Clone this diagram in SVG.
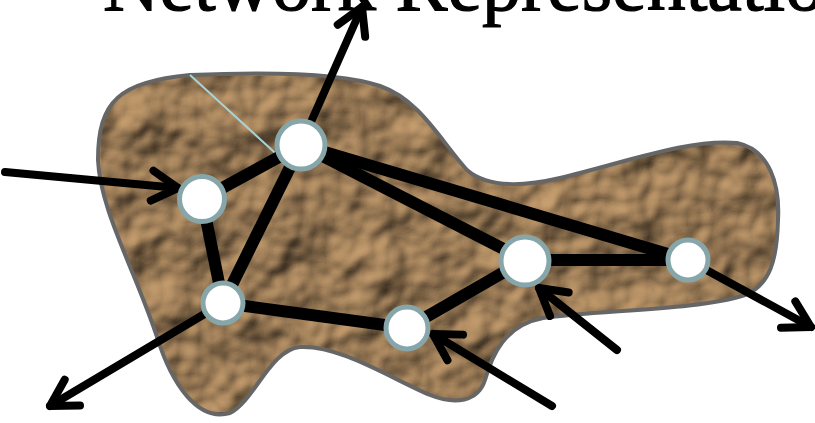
<svg xmlns="http://www.w3.org/2000/svg" width="815" height="423" viewBox="0 0 815 423">
<style>
.title{font-family:"Liberation Serif","DejaVu Serif",serif;font-size:78px;fill:#000;stroke:#000;stroke-width:1.2}
.edge{stroke:#000;stroke-width:12;stroke-linecap:butt;fill:none}
.arrow{stroke:#000;stroke-width:8;stroke-linecap:round;fill:none;marker-end:url(#head)}
.node{fill:#fff;stroke:#87a6aa;stroke-width:5}
.outline{fill:none;stroke:#666;stroke-width:4}
</style>
<defs>
<filter id="paper" x="0" y="0" width="100%" height="100%" color-interpolation-filters="sRGB">
<feTurbulence type="fractalNoise" baseFrequency="0.02" numOctaves="3" seed="11" result="n"/>
<feGaussianBlur in="n" stdDeviation="1.2" result="nb"/>
<feDiffuseLighting in="nb" surfaceScale="10" diffuseConstant="1" lighting-color="#c9a070" result="l">
<feDistantLight azimuth="235" elevation="48"/>
</feDiffuseLighting>
<feComposite in="l" in2="SourceAlpha" operator="in"/>
</filter>
<marker id="head" markerUnits="userSpaceOnUse" markerWidth="60" markerHeight="60" refX="0" refY="0" orient="auto" overflow="visible" viewBox="-40 -30 60 60">
<path d="M-26,-15 L0,0 L-26,15" fill="none" stroke="#000" stroke-width="8" stroke-linecap="round" stroke-linejoin="round"/>
</marker>
<path id="blobShape" d="M190,75 C260,72 340,72 380,86 C420,100 440,140 467,170 C490,190 530,185 560,178 C620,164 690,138 737,143 C770,150 780,185 778,220 C777,260 770,285 745,295 C700,310 600,310 543,318 C505,325 492,355 485,380 C478,402 455,405 430,395 C390,378 340,345 300,347 C270,350 255,400 230,413 C198,422 172,385 157,337 C135,270 100,210 98,160 C98,100 120,82 190,75 Z"/>
</defs>
<rect width="815" height="423" fill="#fff"/>
<text class="title" x="103" y="10">Network Representation</text>
<g id="region">
<use href="#blobShape" fill="#b08a60" filter="url(#paper)"/>
<use href="#blobShape" class="outline"/>
<line x1="190" y1="75" x2="284" y2="161" stroke="#a6d4d8" stroke-width="2"/>
</g>
<g id="connectors">
<line class="edge" x1="301" y1="145" x2="202" y2="199"/>
<line class="edge" x1="301" y1="145" x2="223" y2="303"/>
<line class="edge" x1="301" y1="145" x2="525" y2="260"/>
<line class="edge" x1="301" y1="145" x2="688" y2="260"/>
<line class="edge" x1="202" y1="199" x2="223" y2="303"/>
<line class="edge" x1="223" y1="303" x2="407" y2="328"/>
<line class="edge" x1="407" y1="328" x2="525" y2="260"/>
<line class="edge" x1="525" y1="260" x2="688" y2="260"/>
<line class="arrow" x1="5" y1="172" x2="178" y2="188"/>
<line class="arrow" x1="311" y1="122" x2="362" y2="7"/>
<line class="arrow" x1="223" y1="303" x2="50" y2="406"/>
<line class="arrow" x1="552" y1="406" x2="433" y2="334"/>
<line class="arrow" x1="617" y1="350" x2="539" y2="288"/>
<line class="arrow" x1="688" y1="260" x2="811" y2="327"/>
</g>
<g id="nodeA"><circle class="node" cx="301" cy="145" r="24"/></g>
<g id="nodeB"><circle class="node" cx="202" cy="199" r="22.5"/></g>
<g id="nodeC"><circle class="node" cx="223" cy="303" r="20"/></g>
<g id="nodeD"><circle class="node" cx="407" cy="328" r="21"/></g>
<g id="nodeE"><circle class="node" cx="525" cy="261" r="24"/></g>
<g id="nodeF"><circle class="node" cx="688" cy="260" r="20"/></g>
</svg>
